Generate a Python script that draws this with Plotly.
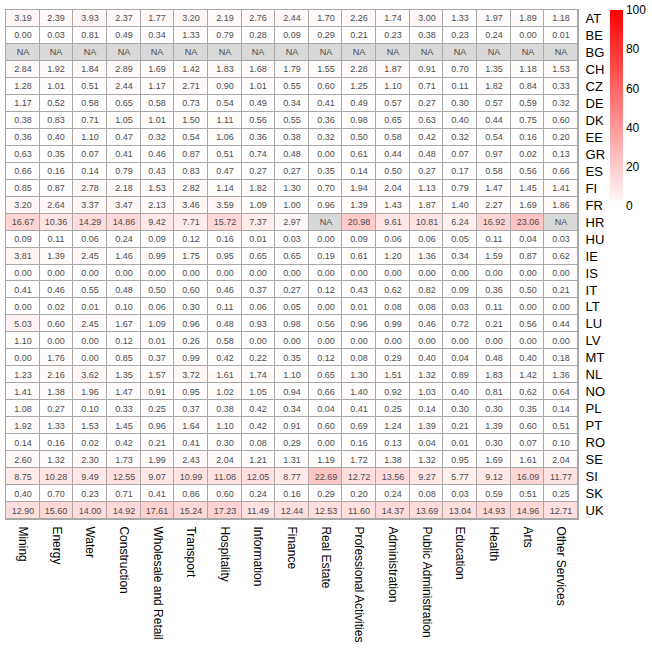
import plotly.graph_objects as go

sectors = ["Mining", "Energy", "Water", "Construction", "Wholesale and Retail", "Transport",
           "Hospitality", "Information", "Finance", "Real Estate", "Professional Activities",
           "Administration", "Public Administration", "Education", "Health", "Arts", "Other Services"]

countries = ["AT", "BE", "BG", "CH", "CZ", "DE", "DK", "EE", "GR", "ES", "FI", "FR", "HR", "HU", "IE",
             "IS", "IT", "LT", "LU", "LV", "MT", "NL", "NO", "PL", "PT", "RO", "SE", "SI", "SK", "UK"]

NA = None
AT = [3.19, 2.39, 3.93, 2.37, 1.77, 3.20, 2.19, 2.76, 2.44, 1.70, 2.26, 1.74, 3.00, 1.33, 1.97, 1.89, 1.18]
BE = [0.00, 0.03, 0.81, 0.49, 0.34, 1.33, 0.79, 0.28, 0.09, 0.29, 0.21, 0.23, 0.38, 0.23, 0.24, 0.00, 0.01]
BG = [NA] * 17
CH = [2.84, 1.92, 1.84, 2.89, 1.69, 1.42, 1.83, 1.68, 1.79, 1.55, 2.28, 1.87, 0.91, 0.70, 1.35, 1.18, 1.53]
CZ = [1.28, 1.01, 0.51, 2.44, 1.17, 2.71, 0.90, 1.01, 0.55, 0.60, 1.25, 1.10, 0.71, 0.11, 1.82, 0.84, 0.33]
DE = [1.17, 0.52, 0.58, 0.65, 0.58, 0.73, 0.54, 0.49, 0.34, 0.41, 0.49, 0.57, 0.27, 0.30, 0.57, 0.59, 0.32]
DK = [0.38, 0.83, 0.71, 1.05, 1.01, 1.50, 1.11, 0.56, 0.55, 0.36, 0.98, 0.65, 0.63, 0.40, 0.44, 0.75, 0.60]
EE = [0.36, 0.40, 1.10, 0.47, 0.32, 0.54, 1.06, 0.36, 0.38, 0.32, 0.50, 0.58, 0.42, 0.32, 0.54, 0.16, 0.20]
GR = [0.63, 0.35, 0.07, 0.41, 0.46, 0.87, 0.51, 0.74, 0.48, 0.00, 0.61, 0.44, 0.48, 0.07, 0.97, 0.02, 0.13]
ES = [0.66, 0.16, 0.14, 0.79, 0.43, 0.83, 0.47, 0.27, 0.27, 0.35, 0.14, 0.50, 0.27, 0.17, 0.58, 0.56, 0.66]
FI = [0.85, 0.87, 2.78, 2.18, 1.53, 2.82, 1.14, 1.82, 1.30, 0.70, 1.94, 2.04, 1.13, 0.79, 1.47, 1.45, 1.41]
FR = [3.20, 2.64, 3.37, 3.47, 2.13, 3.46, 3.59, 1.09, 1.00, 0.96, 1.39, 1.43, 1.87, 1.40, 2.27, 1.69, 1.86]
HR = [16.67, 10.36, 14.29, 14.86, 9.42, 7.71, 15.72, 7.37, 2.97, NA, 20.98, 9.61, 10.81, 6.24, 16.92, 23.06, NA]
HU = [0.09, 0.11, 0.06, 0.24, 0.09, 0.12, 0.16, 0.01, 0.03, 0.00, 0.09, 0.06, 0.06, 0.05, 0.11, 0.04, 0.03]
IE = [3.81, 1.39, 2.45, 1.46, 0.99, 1.75, 0.95, 0.65, 0.65, 0.19, 0.61, 1.20, 1.36, 0.34, 1.59, 0.87, 0.62]
IS = [0.00] * 17
IT = [0.41, 0.46, 0.55, 0.48, 0.50, 0.60, 0.46, 0.37, 0.27, 0.12, 0.43, 0.62, 0.82, 0.09, 0.36, 0.50, 0.21]
LT = [0.00, 0.02, 0.01, 0.10, 0.06, 0.30, 0.11, 0.06, 0.05, 0.00, 0.01, 0.08, 0.08, 0.03, 0.11, 0.00, 0.00]
LU = [5.03, 0.60, 2.45, 1.67, 1.09, 0.96, 0.48, 0.93, 0.98, 0.56, 0.96, 0.99, 0.46, 0.72, 0.21, 0.56, 0.44]
LV = [1.10, 0.00, 0.00, 0.12, 0.01, 0.26, 0.58, 0.00, 0.00, 0.00, 0.00, 0.00, 0.00, 0.00, 0.00, 0.00, 0.00]
MT = [0.00, 1.76, 0.00, 0.85, 0.37, 0.99, 0.42, 0.22, 0.35, 0.12, 0.08, 0.29, 0.40, 0.04, 0.48, 0.40, 0.18]
NL = [1.23, 2.16, 3.62, 1.35, 1.57, 3.72, 1.61, 1.74, 1.10, 0.65, 1.30, 1.51, 1.32, 0.89, 1.83, 1.42, 1.36]
NO = [1.41, 1.38, 1.96, 1.47, 0.91, 0.95, 1.02, 1.05, 0.94, 0.66, 1.40, 0.92, 1.03, 0.40, 0.81, 0.62, 0.64]
PL = [1.08, 0.27, 0.10, 0.33, 0.25, 0.37, 0.38, 0.42, 0.34, 0.04, 0.41, 0.25, 0.14, 0.30, 0.30, 0.35, 0.14]
PT = [1.92, 1.33, 1.53, 1.45, 0.96, 1.64, 1.10, 0.42, 0.91, 0.60, 0.69, 1.24, 1.39, 0.21, 1.39, 0.60, 0.51]
RO = [0.14, 0.16, 0.02, 0.42, 0.21, 0.41, 0.30, 0.08, 0.29, 0.00, 0.16, 0.13, 0.04, 0.01, 0.30, 0.07, 0.10]
SE = [2.60, 1.32, 2.30, 1.73, 1.99, 2.43, 2.04, 1.21, 1.31, 1.19, 1.72, 1.38, 1.32, 0.95, 1.69, 1.61, 2.04]
SI = [8.75, 10.28, 9.49, 12.55, 9.07, 10.99, 11.08, 12.05, 8.77, 22.69, 12.72, 13.56, 9.27, 5.77, 9.12, 16.09, 11.77]
SK = [0.40, 0.70, 0.23, 0.71, 0.41, 0.86, 0.60, 0.24, 0.16, 0.29, 0.20, 0.24, 0.08, 0.03, 0.59, 0.51, 0.25]
UK = [12.90, 15.60, 14.00, 14.92, 17.61, 15.24, 17.23, 11.49, 12.44, 12.53, 11.60, 14.37, 13.69, 13.04, 14.93, 14.96, 12.71]

rows = [AT, BE, BG, CH, CZ, DE, DK, EE, GR, ES, FI, FR, HR, HU, IE,
        IS, IT, LT, LU, LV, MT, NL, NO, PL, PT, RO, SE, SI, SK, UK]

z = rows
text = [["" if v is None else f"{v:.2f}" for v in r] for r in rows]
na_z = [[1 if v is None else None for v in r] for r in rows]
na_text = [["NA" if v is None else "" for v in r] for r in rows]

W, H = 652, 649
L, R, T, B = 6, 74, 10, 130
plot_w = W - L - R

FONT = "Liberation Sans, Arial, sans-serif"

fig = go.Figure()

# NA cells (grey)
fig.add_trace(go.Heatmap(
    z=na_z, x=sectors, y=countries, text=na_text, texttemplate="%{text}",
    textfont=dict(family=FONT, size=9, color="#4d4d4d"),
    colorscale=[[0, "#D9D9D9"], [1, "#D9D9D9"]],
    showscale=False, xgap=1, ygap=1, hoverinfo="skip",
))

fig.add_trace(go.Heatmap(
    z=z, x=sectors, y=countries,
    text=text, texttemplate="%{text}",
    textfont=dict(family=FONT, size=9, color="#4d4d4d"),
    colorscale=[[0, "#FFFFFF"], [1, "#FF0000"]],
    zmin=0, zmax=100, xgap=1, ygap=1,
    colorbar=dict(
        thickness=13, lenmode="pixels", len=196,
        x=1 + (610 - 578) / plot_w, xanchor="left", xpad=0,
        y=1, yanchor="top", ypad=0,
        outlinewidth=0,
        tickvals=[0, 20, 40, 60, 80, 100],
        ticks="", ticklabelposition="outside",
        tickfont=dict(family=FONT, size=12, color="#000000"),
    ),
))

fig.update_layout(
    width=W, height=H,
    margin=dict(l=L, r=R, t=T, b=B, autoexpand=False),
    paper_bgcolor="white",
    plot_bgcolor="#A8A8A8",
    font=dict(family=FONT, size=12, color="#000000"),
)
fig.update_xaxes(
    side="bottom", tickangle=90, showgrid=False, zeroline=False,
    ticks="", ticklabelstandoff=4, automargin=False,
    tickfont=dict(family=FONT, size=12, color="#000000"),
    showline=True, linecolor="#A8A8A8", linewidth=1, mirror=True,
)
fig.update_yaxes(
    side="right", autorange="reversed", showgrid=False, zeroline=False,
    ticks="", ticklabelstandoff=4, automargin=False,
    tickfont=dict(family=FONT, size=13, color="#000000"),
    showline=True, linecolor="#A8A8A8", linewidth=1, mirror=True,
)

fig.write_html(
    "out.html",
    config={"displayModeBar": False},
    post_script="document.body.style.margin='0px';document.body.style.padding='0px';document.body.style.overflow='hidden';",
)
